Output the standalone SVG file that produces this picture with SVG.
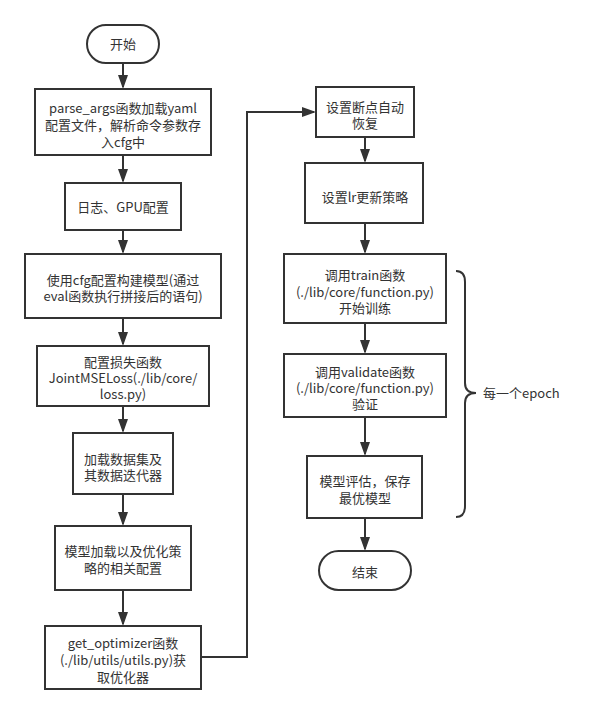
<svg xmlns="http://www.w3.org/2000/svg" width="589" height="712" viewBox="0 0 589 712">
<style>
.n{fill:#fff;stroke:#333;stroke-width:2}
.c{fill:none;stroke:#333;stroke-width:2}
text{font-family:"Microsoft YaHei","Noto Sans CJK SC","Liberation Sans",sans-serif;font-size:13px;fill:#333;text-anchor:middle}
</style>
<defs>
<marker id="a" viewBox="0 0 14 10" refX="12" refY="5" markerWidth="14" markerHeight="10" markerUnits="userSpaceOnUse" orient="auto">
<path d="M0,0 L14,5 L0,10 z" fill="#333"/>
</marker>
</defs>
<rect width="589" height="712" fill="#fff"/>
<g id="connectors">
<path class="c" d="M123,63 V87" marker-end="url(#a)"/>
<path class="c" d="M123,155 V181" marker-end="url(#a)"/>
<path class="c" d="M123,230 V252" marker-end="url(#a)"/>
<path class="c" d="M123,318 V344" marker-end="url(#a)"/>
<path class="c" d="M123,406 V431" marker-end="url(#a)"/>
<path class="c" d="M123,494 V524" marker-end="url(#a)"/>
<path class="c" d="M123,590 V624" marker-end="url(#a)"/>
<path class="c" d="M201,657 H247 V112 H314" marker-end="url(#a)"/>
<path class="c" d="M365,137 V161" marker-end="url(#a)"/>
<path class="c" d="M365,223 V252" marker-end="url(#a)"/>
<path class="c" d="M365,323 V352" marker-end="url(#a)"/>
<path class="c" d="M365,417 V454" marker-end="url(#a)"/>
<path class="c" d="M365,518 V549" marker-end="url(#a)"/>
</g>
<g id="start">
<rect class="n" x="87" y="25" width="72" height="38" rx="19"/>
<text x="123" y="48.5">开始</text>
</g>
<g id="parse">
<rect class="n" x="35" y="89" width="176" height="66"/>
<text x="123" y="112.5">parse_args函数加载yaml</text>
<text x="123" y="129.5">配置文件，解析命令参数存</text>
<text x="123" y="146.5">入cfg中</text>
</g>
<g id="log">
<rect class="n" x="65" y="183" width="116" height="47"/>
<text x="123" y="211.5">日志、GPU配置</text>
</g>
<g id="model">
<rect class="n" x="25" y="254" width="196" height="64"/>
<text x="123" y="284.5">使用cfg配置构建模型(通过</text>
<text x="123" y="300.5">eval函数执行拼接后的语句)</text>
</g>
<g id="loss">
<rect class="n" x="37" y="346" width="172" height="60"/>
<text x="123" y="366.5">配置损失函数</text>
<text x="123" y="382.5">JointMSELoss(./lib/core/</text>
<text x="123" y="398.5">loss.py)</text>
</g>
<g id="data">
<rect class="n" x="73" y="433" width="100" height="61"/>
<text x="123" y="463.5">加载数据集及</text>
<text x="123" y="479.5">其数据迭代器</text>
</g>
<g id="load">
<rect class="n" x="55" y="526" width="136" height="64"/>
<text x="123" y="555.5">模型加载以及优化策</text>
<text x="123" y="572.5">略的相关配置</text>
</g>
<g id="optim">
<rect class="n" x="45" y="626" width="156" height="63"/>
<text x="123" y="647.5">get_optimizer函数</text>
<text x="123" y="664.5">(./lib/utils/utils.py)获</text>
<text x="123" y="681.5">取优化器</text>
</g>
<g id="resume">
<rect class="n" x="316" y="87" width="98" height="50"/>
<text x="365" y="111.5">设置断点自动</text>
<text x="365" y="127.5">恢复</text>
</g>
<g id="lr">
<rect class="n" x="305" y="163" width="118" height="60"/>
<text x="365" y="201.5">设置lr更新策略</text>
</g>
<g id="train">
<rect class="n" x="284" y="254" width="162" height="69"/>
<text x="365" y="279.5">调用train函数</text>
<text x="365" y="296.5">(./lib/core/function.py)</text>
<text x="365" y="312.5">开始训练</text>
</g>
<g id="validate">
<rect class="n" x="284" y="354" width="162" height="63"/>
<text x="365" y="376.5">调用validate函数</text>
<text x="365" y="392.5">(./lib/core/function.py)</text>
<text x="365" y="408.5">验证</text>
</g>
<g id="eval">
<rect class="n" x="307" y="456" width="115" height="62"/>
<text x="365" y="485.5">模型评估，保存</text>
<text x="365" y="502.5">最优模型</text>
</g>
<g id="end">
<rect class="n" x="319" y="551" width="92" height="39" rx="19.5"/>
<text x="365" y="576.5">结束</text>
</g>
<g id="brace">
<path class="c" d="M456,271 Q465,271 465,282 L465,383 Q465,393 476,393 Q465,393 465,403 L465,506 Q465,517 456,517"/>
<text x="483" y="397.5" style="text-anchor:start">每一个epoch</text>
</g>
</svg>
